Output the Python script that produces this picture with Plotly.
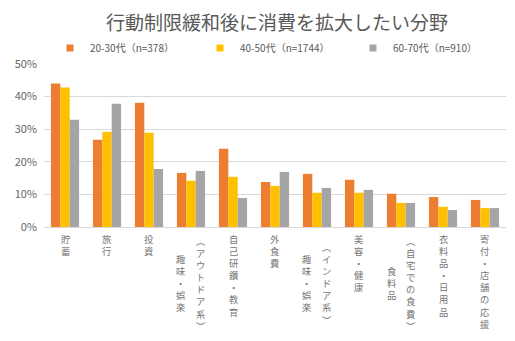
import plotly.graph_objects as go

categories = ["貯蓄", "旅行", "投資", "趣味・娯楽（アウトドア系）", "自己研鑽・教育", "外食費",
              "趣味・娯楽（インドア系）", "美容・健康", "食料品（自宅での食費）", "衣料品・日用品", "寄付・店舗の応援"]
label_main = ["貯蓄", "旅行", "投資", "趣味・娯楽", "自己研鑽・教育", "外食費",
              "趣味・娯楽", "美容・健康", "食料品", "衣料品・日用品", "寄付・店舗の応援"]
label_sub = ["", "", "", "︵アウトドア系︶", "", "", "︵インドア系︶", "", "︵自宅での食費︶", "", ""]

series_names = ["20-30代（n=378）", "40-50代（n=1744）", "60-70代（n=910）"]
v_2030 = [44.0, 26.8, 38.1, 16.6, 24.0, 13.8, 16.3, 14.5, 10.2, 9.2, 8.3]
v_4050 = [42.8, 29.2, 28.9, 14.2, 15.4, 12.6, 10.5, 10.5, 7.4, 6.2, 5.8]
v_6070 = [32.9, 37.8, 17.8, 17.2, 8.9, 16.9, 12.0, 11.4, 7.4, 5.2, 5.8]
colors = ["#ED7D31", "#FFC000", "#A5A5A5"]

y_ticks = [0, 10, 20, 30, 40, 50]
y_ticktext = [f"{v}%" for v in y_ticks]

FONT = "Noto Sans CJK JP"
TXT = "#595959"
LIGHT = "#767676"

L, PW = 44, 462
legend_ids = ["legend", "legend2", "legend3"]
legend_left_px = [50, 200, 353]

fig = go.Figure()
for name, vals, c, lid in zip(series_names, [v_2030, v_4050, v_6070], colors, legend_ids):
    fig.add_trace(go.Bar(x=categories, y=vals, name=name, marker_color=c,
                         marker_line_width=0, hoverinfo="x+y", showlegend=False,
                         legendgroup=name))
    fig.add_trace(go.Scatter(x=[None], y=[None], mode="markers", name=name,
                             marker=dict(symbol="square", size=7, color=c),
                             legend=lid, legendgroup=name, showlegend=True))

def vert(s):
    return "<br>".join(list(s))

LF = dict(family=FONT, size=9.3, color=LIGHT)
annotations = []
for cat, m, s in zip(categories, label_main, label_sub):
    if s:
        annotations.append(dict(x=cat, xref="x", y=0, yref="paper", yanchor="middle",
                                yshift=-56, xshift=-10, text=vert(m), showarrow=False, font=LF))
        annotations.append(dict(x=cat, xref="x", y=0, yref="paper", yanchor="middle",
                                yshift=-56, xshift=10, text=vert(s), showarrow=False, font=LF))
    else:
        annotations.append(dict(x=cat, xref="x", y=0, yref="paper", yanchor="top",
                                yshift=-3, text=vert(m), showarrow=False, font=LF))

legend_style = dict(orientation="h", xanchor="left", y=1 + (64-48)/163, yanchor="middle",
                    font=dict(family=FONT, size=10, color=TXT),
                    bgcolor="rgba(0,0,0,0)")
legends = {lid: dict(legend_style, x=(px - L)/PW) for lid, px in zip(legend_ids, legend_left_px)}

fig.update_layout(
    width=515, height=341,
    margin=dict(l=L, r=515 - L - PW, t=64, b=114),
    paper_bgcolor="white", plot_bgcolor="white",
    font=dict(family=FONT, color=TXT, size=10),
    title=dict(text="行動制限緩和後に消費を拡大したい分野", x=277/515, xanchor="center",
               y=1 - 23/341, yanchor="middle", xref="container",
               font=dict(family=FONT, size=19, color=TXT)),
    barmode="group", bargap=0.33, bargroupgap=0,
    xaxis=dict(showticklabels=False, showline=True, linecolor="#D9D9D9", linewidth=1,
               ticks="", showgrid=False),
    yaxis=dict(range=[0, 50], tickvals=y_ticks, ticktext=y_ticktext, showgrid=True,
               gridcolor="#D9D9D9", gridwidth=1, zeroline=False, showline=False,
               tickfont=dict(family=FONT, size=11, color="#666666"), ticklabelstandoff=6),
    annotations=annotations,
    **legends,
)

fig.write_html("out.html")
